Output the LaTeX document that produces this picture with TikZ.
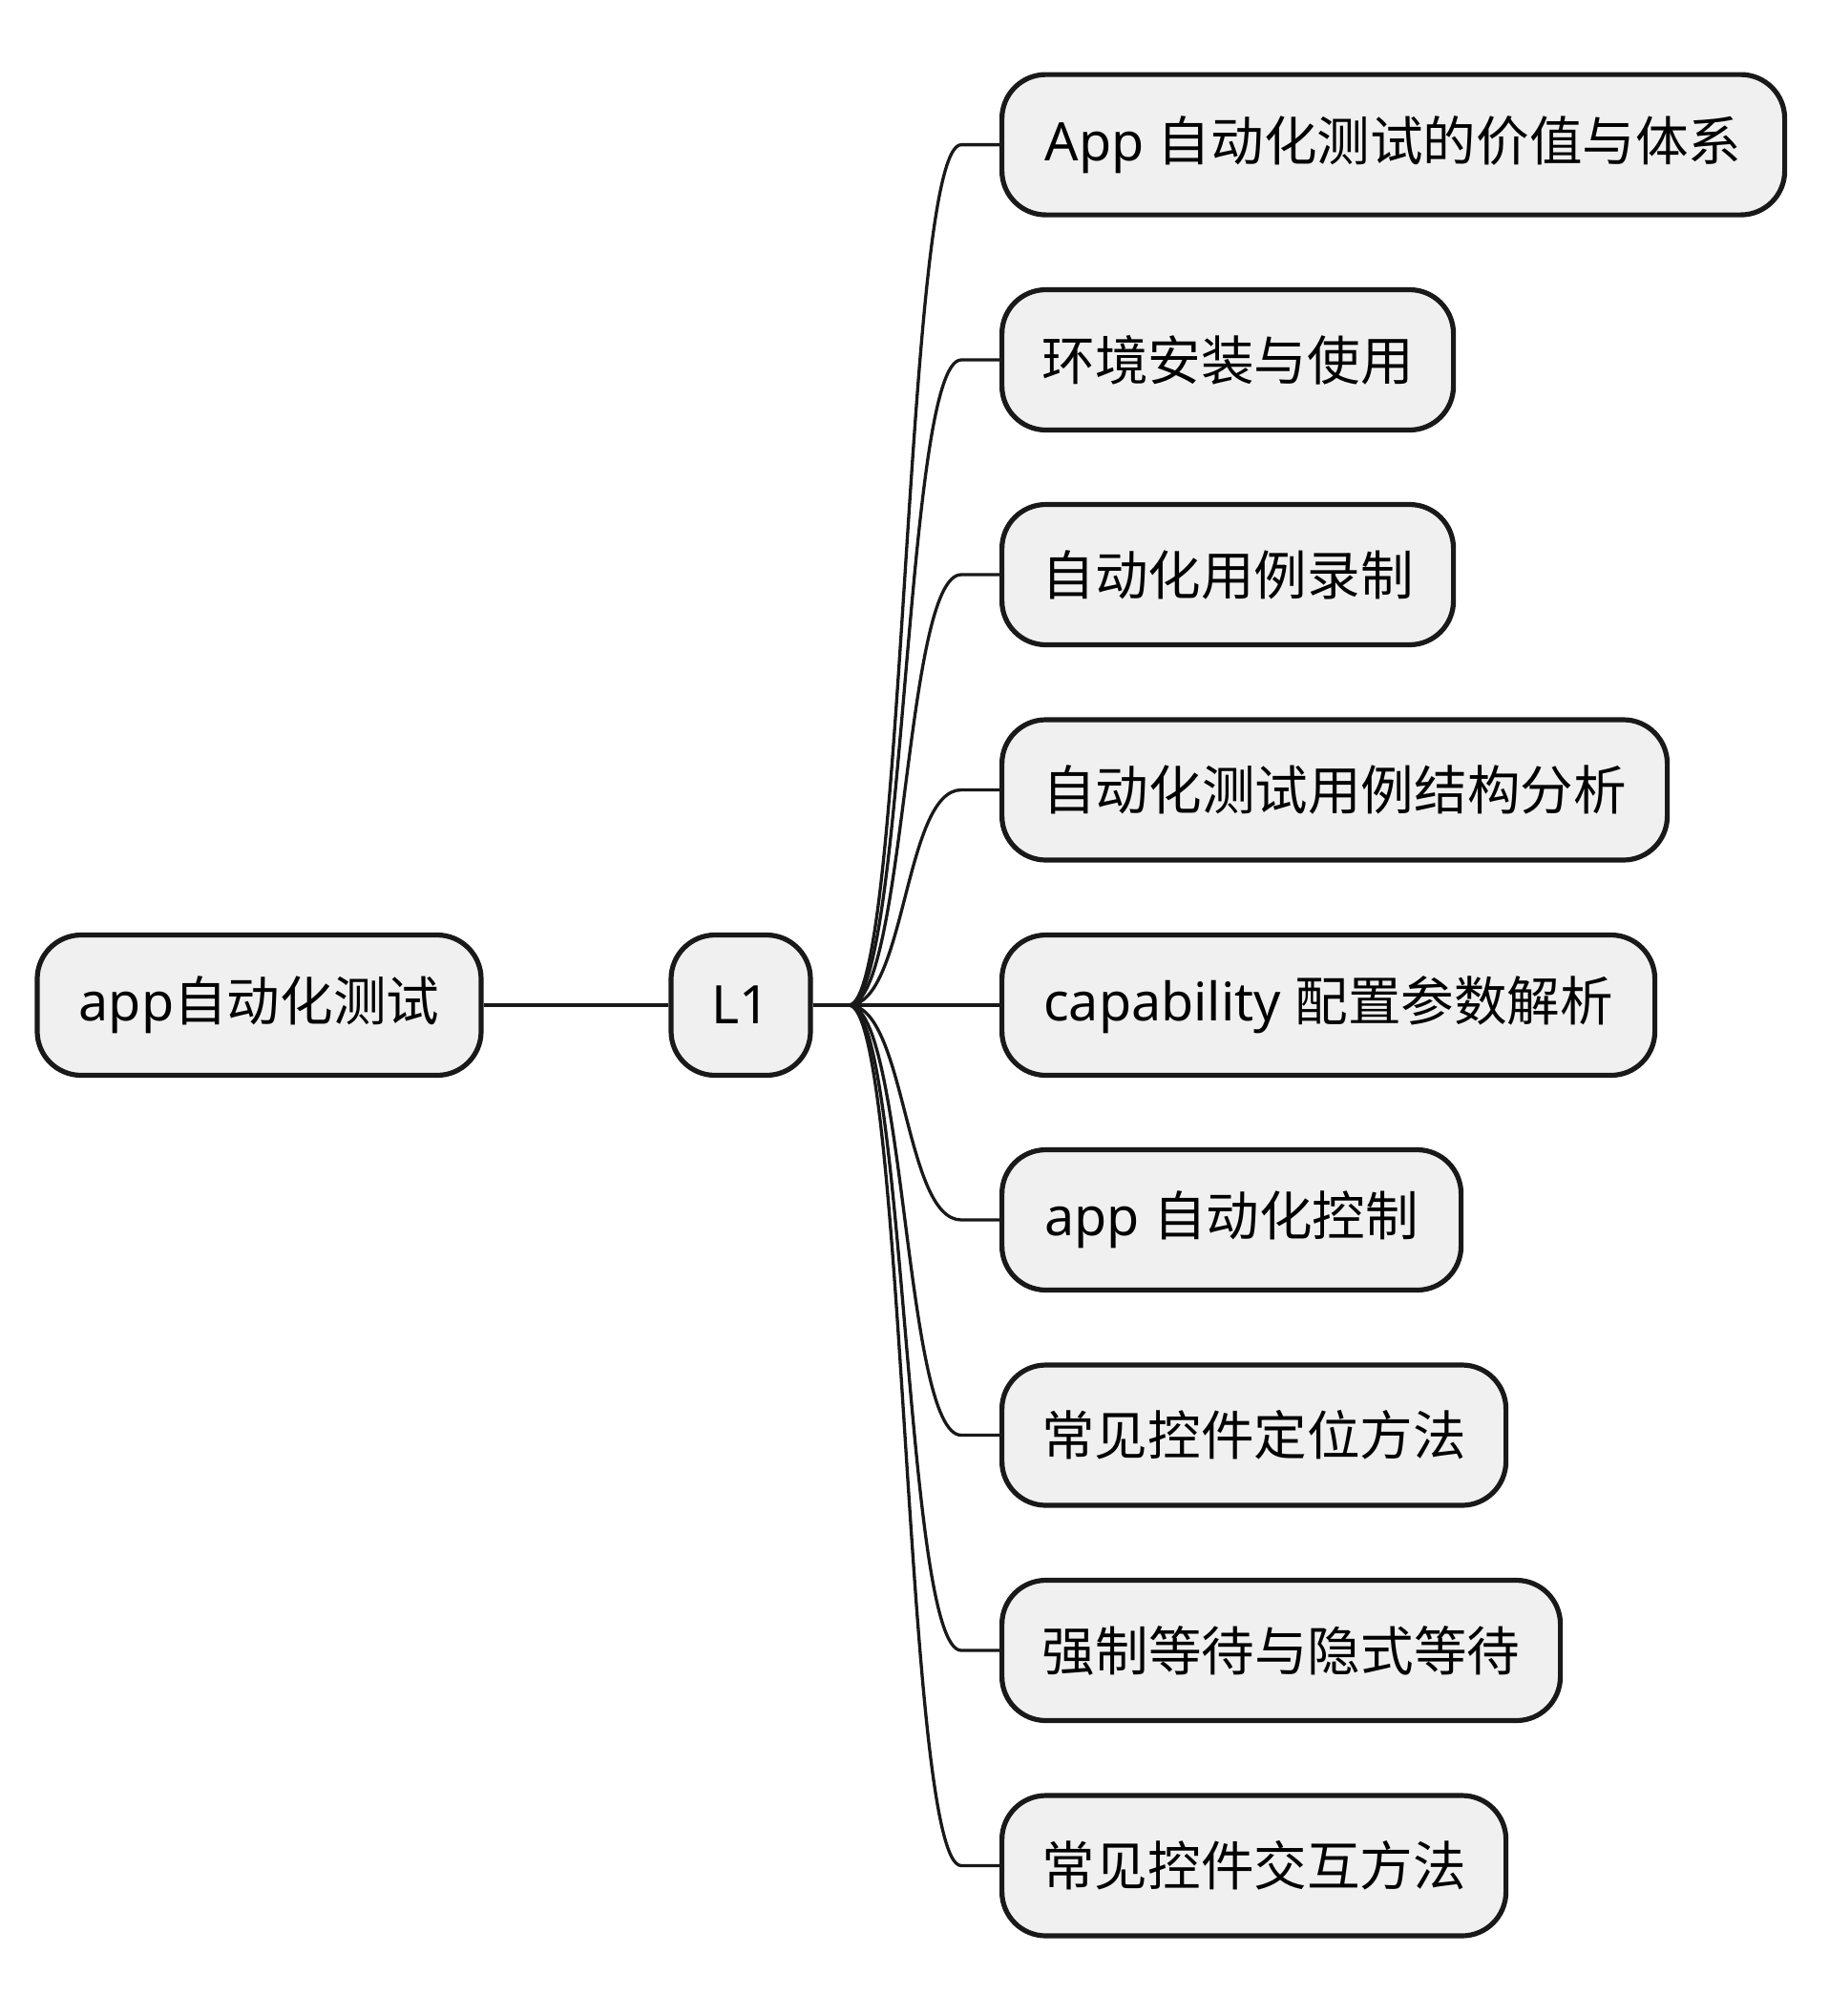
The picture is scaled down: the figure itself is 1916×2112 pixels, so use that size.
\documentclass[tikz,border=0pt]{standalone}
\usepackage{fontspec}
\setmainfont{Noto Sans CJK SC}
\newfontfamily\lat{Noto Sans}
\begin{document}
\begin{tikzpicture}[x=1pt,y=-1pt,
  box/.style={draw=black!90,line width=5.2pt,fill=black!6,rounded corners=46pt,
    minimum height=147pt,inner xsep=0pt,inner ysep=0pt,
    font=\fontsize{55.6}{66}\selectfont},
  conn/.style={line width=3.3pt,draw=black!90}]
\useasboundingbox (0,0) rectangle (1916,2112);
\node[box,minimum width=465pt] (root) at (271.5,1053) {{\lat app}自动化测试};
\node[box,minimum width=146pt] (L1) at (776,1053) {{\lat L1}};
\coordinate (br) at (889,1053);
\node[box,anchor=west,minimum width=820pt] (c1) at (1047,151.6) {{\lat App }自动化测试的价值与体系};
\node[box,anchor=west,minimum width=473pt] (c2) at (1047,377) {环境安装与使用};
\node[box,anchor=west,minimum width=473pt] (c3) at (1047,602) {自动化用例录制};
\node[box,anchor=west,minimum width=697pt] (c4) at (1047,827.5) {自动化测试用例结构分析};
\node[box,anchor=west,minimum width=684pt] (c5) at (1047,1053) {{\lat capability }配置参数解析};
\node[box,anchor=west,minimum width=481pt] (c6) at (1047,1278) {{\lat app }自动化控制};
\node[box,anchor=west,minimum width=528pt] (c7) at (1047,1503.5) {常见控件定位方法};
\node[box,anchor=west,minimum width=585pt] (c8) at (1047,1729) {强制等待与隐式等待};
\node[box,anchor=west,minimum width=528pt] (c9) at (1047,1954.5) {常见控件交互方法};
\draw[conn] (root.east) -- (L1.west);
\draw[conn] (L1.east) -- (br);
\foreach \c in {c1,c2,c3,c4,c6,c7,c8,c9}{
  \draw[conn] (br) .. controls +(60,0) and +(-60,0) .. ([xshift=-40pt]\c.west) -- (\c.west);
}
\draw[conn] (br) -- (c5.west);
\end{tikzpicture}
\end{document}
